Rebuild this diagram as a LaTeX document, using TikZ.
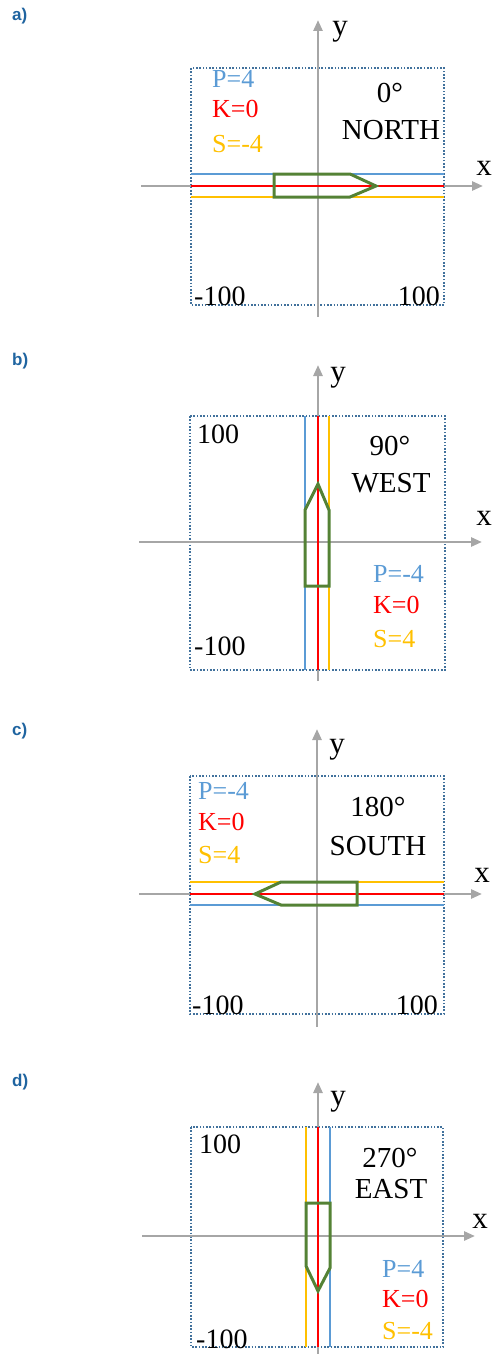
\documentclass[tikz,border=0pt]{standalone}
\usepackage{fontspec}
\setmainfont{Liberation Serif}
\newfontfamily\panelfont{Liberation Sans}
\usetikzlibrary{arrows.meta}
\definecolor{pblue}{RGB}{91,155,213}
\definecolor{kred}{RGB}{255,0,0}
\definecolor{syel}{RGB}{255,192,0}
\definecolor{shipgreen}{RGB}{84,130,53}
\definecolor{axgray}{RGB}{166,166,166}
\definecolor{boxblue}{RGB}{65,113,156}
\definecolor{panelblue}{RGB}{31,100,160}
\begin{document}
\begin{tikzpicture}[x=1pt,y=-1pt,
  axisline/.style={draw=axgray,line width=2.6pt,-{Triangle[length=11pt,width=9pt]}},
  framebox/.style={draw=boxblue,line width=1.8pt,dash pattern=on 1.6pt off 1.7pt},
  pline/.style={draw=pblue,line width=2.6pt},
  kline/.style={draw=kred,line width=2.8pt},
  sline/.style={draw=syel,line width=2.6pt},
  shipshape/.style={draw=shipgreen,line width=3pt,line join=miter},
  txt/.style={inner sep=0pt,font=\fontsize{28}{28}\selectfont},
  head/.style={inner sep=0pt,font=\fontsize{29}{29}\selectfont,anchor=base},
  axlbl/.style={inner sep=0pt,font=\fontsize{31}{31}\selectfont,anchor=base},
  plbl/.style={inner sep=0pt,font=\fontsize{26}{26}\selectfont,anchor=base west,text=pblue},
  klbl/.style={inner sep=0pt,font=\fontsize{26}{26}\selectfont,anchor=base west,text=kred},
  slbl/.style={inner sep=0pt,font=\fontsize{26}{26}\selectfont,anchor=base west,text=syel},
  panel/.style={inner sep=0pt,anchor=base west,text=panelblue,font=\panelfont\bfseries\fontsize{17}{17}\selectfont}]
\useasboundingbox (0,0) rectangle (497,1354);

% ---------------- a) ----------------
\node[panel] (la) at (12,21) {a)};
\draw[framebox] (191,68) rectangle (444,305);
\draw[axisline] (141,186) -- (483,186);
\draw[axisline] (318,317) -- (318,20);
\draw[pline] (191,174) -- (444,174);
\draw[sline] (191,197) -- (444,197);
\draw[kline] (191,186) -- (444,186);
\draw[shipshape] (274,174) -- (350,174) -- (376,186) -- (350,197) -- (274,197) -- cycle;
\node[axlbl] (ya) at (340,36) {y};
\node[axlbl] (xa) at (484,175) {x};
\node[plbl] (pa) at (212,87) {P=4};
\node[klbl] (ka) at (212,117) {K=0};
\node[slbl] (sa) at (212,152) {S=-4};
\node[head] (da) at (390,102) {0°};
\node[head] (na) at (391,139) {NORTH};
\node[txt,anchor=base west] (ma) at (194,305) {-100};
\node[txt,anchor=base east] (pa1) at (440,305) {100};

% ---------------- b) ----------------
\node[panel] (lb) at (12,365) {b)};
\draw[framebox] (190,416) rectangle (445,670);
\draw[axisline] (139,542) -- (482,542);
\draw[axisline] (318,681) -- (318,365);
\draw[pline] (305,416) -- (305,670);
\draw[sline] (329,416) -- (329,670);
\draw[kline] (318,416) -- (318,670);
\draw[shipshape] (305,586) -- (305,510) -- (318,484) -- (329,510) -- (329,586) -- cycle;
\node[axlbl] (yb) at (338,381) {y};
\node[axlbl] (xb) at (484,525) {x};
\node[txt,anchor=base west] (hb) at (197,443) {100};
\node[txt,anchor=base west] (mb) at (194,655) {-100};
\node[head] (db) at (390,455) {90°};
\node[head] (wb) at (391,492) {WEST};
\node[plbl] (pb) at (373,582) {P=-4};
\node[klbl] (kb) at (373,613) {K=0};
\node[slbl] (sb) at (373,647) {S=4};

% ---------------- c) ----------------
\node[panel] (lc) at (12,735) {c)};
\draw[framebox] (190,776) rectangle (444,1014);
\draw[axisline] (139,894) -- (482,894);
\draw[axisline] (317,1027) -- (317,729);
\draw[sline] (190,882) -- (444,882);
\draw[pline] (190,905) -- (444,905);
\draw[kline] (190,894) -- (444,894);
\draw[shipshape] (357,882) -- (281,882) -- (255,894) -- (281,905) -- (357,905) -- cycle;
\node[axlbl] (yc) at (337,753) {y};
\node[axlbl] (xc) at (482,882) {x};
\node[plbl] (pc) at (198,799) {P=-4};
\node[klbl] (kc) at (198,830) {K=0};
\node[slbl] (sc) at (198,863) {S=4};
\node[head] (dc) at (378,816) {180°};
\node[head] (nc) at (378,855) {SOUTH};
\node[txt,anchor=base west] (mc) at (192,1014) {-100};
\node[txt,anchor=base east] (hc) at (438,1014) {100};

% ---------------- d) ----------------
\node[panel] (ld) at (12,1086) {d)};
\draw[framebox] (191,1127) rectangle (443,1347);
\draw[axisline] (142,1236) -- (475,1236);
\draw[axisline] (318,1354) -- (318,1082);
\draw[sline] (306,1127) -- (306,1347);
\draw[pline] (330,1127) -- (330,1347);
\draw[kline] (318,1127) -- (318,1347);
\draw[shipshape] (306,1203) -- (330,1203) -- (330,1268) -- (318,1291) -- (306,1266) -- cycle;
\node[axlbl] (yd) at (338,1105) {y};
\node[axlbl] (xd) at (480,1228) {x};
\node[txt,anchor=base west] (hd) at (199,1153) {100};
\node[txt,anchor=base west] (md) at (196,1348) {-100};
\node[head] (dd) at (390,1167) {270°};
\node[head] (ed) at (391,1198) {EAST};
\node[plbl] (pd) at (382,1277) {P=4};
\node[klbl] (kd) at (382,1307) {K=0};
\node[slbl] (sd) at (382,1339) {S=-4};
\end{tikzpicture}
\end{document}
